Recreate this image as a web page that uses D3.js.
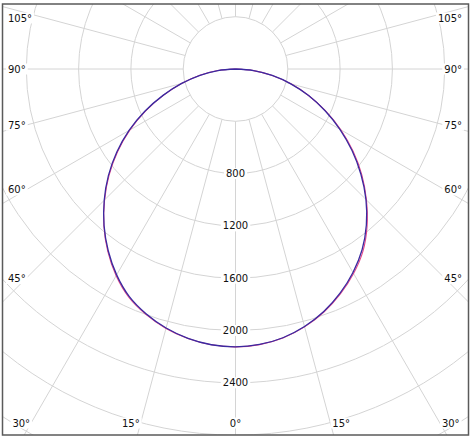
<!DOCTYPE html>
<html>
<head>
<meta charset="utf-8">
<script src="https://cdn.jsdelivr.net/npm/d3@7"></script>
<style>
  html, body { margin: 0; padding: 0; background: #fff; }
  svg { display: block; }
  text { font-family: "DejaVu Sans", sans-serif; font-size: 10px; fill: #111; }
</style>
</head>
<body>
<svg id="chart" width="472" height="438"></svg>
<script>
// ---- data (angles from nadir, in degrees; intensity in cd) ----
const gammaAngles = [0, 5, 10, 15, 20, 25, 30, 35, 40, 45, 50, 55, 60, 65, 70, 75, 80, 85, 90];
const blueLeft  = [2125, 2117, 2092, 2051, 1994, 1921, 1818, 1697, 1564, 1420, 1269, 1108, 940, 765, 590, 426, 276, 135, 0];
const blueRight = [2125, 2115, 2087, 2039, 1974, 1892, 1797, 1688, 1557, 1411, 1252, 1088, 922, 756, 595, 438, 285, 139, 0];
const pinkLeft  = [2125, 2117, 2093, 2054, 1999, 1928, 1826, 1703, 1566, 1416, 1262, 1100, 932, 758, 585, 424, 276, 135, 0];
const pinkRight = [2125, 2116, 2089, 2042, 1978, 1898, 1806, 1700, 1566, 1416, 1262, 1098, 930, 760, 597, 439, 285, 139, 0];

const ringValues = [400, 800, 1200, 1600, 2000, 2400, 2800, 3200, 3600, 4000];
const ringLabels = [800, 1200, 1600, 2000, 2400];
const spokeAngles = [0, 15, 30, 45, 60, 75, 90, 105, 120, 135, 150, 165, 180,
                     -15, -30, -45, -60, -75, -90, -105, -120, -135, -150, -165];
const sideLabelAngles = [45, 60, 75, 90, 105];
const bottomLabelAngles = [-30, -15, 0, 15, 30];

// ---- layout ----
const frame = { x: 2.5, y: 4, w: 466, h: 431 };
const cx = 235.5, cy = 69;
const r = d3.scaleLinear().domain([0, 2400]).range([0, 313.8]);
const gridColor = "#d4d4d4";

const svg = d3.select("#chart");
svg.append("defs").append("clipPath").attr("id", "clip")
  .append("rect").attr("x", frame.x).attr("y", frame.y).attr("width", frame.w).attr("height", frame.h);

const plot = svg.append("g").attr("clip-path", "url(#clip)");
const toRad = d => d * Math.PI / 180;
const px = (phi, R) => cx + R * Math.sin(toRad(phi));
const py = (phi, R) => cy + R * Math.cos(toRad(phi));

// rings
plot.append("g").selectAll("circle").data(ringValues).join("circle")
  .attr("cx", cx).attr("cy", cy).attr("r", d => r(d))
  .attr("fill", "none").attr("stroke", gridColor).attr("stroke-width", 1);

// spokes
plot.append("g").selectAll("line").data(spokeAngles).join("line")
  .attr("x1", d => px(d, r(400))).attr("y1", d => py(d, r(400)))
  .attr("x2", d => px(d, 1000)).attr("y2", d => py(d, 1000))
  .attr("stroke", gridColor).attr("stroke-width", 1);

// curves
function buildPoints(left, right) {
  const pts = [];
  for (let i = gammaAngles.length - 1; i >= 0; i--) pts.push([Math.PI + toRad(gammaAngles[i]), r(left[i])]);
  for (let i = 1; i < gammaAngles.length; i++) pts.push([Math.PI - toRad(gammaAngles[i]), r(right[i])]);
  return pts;
}
const radial = d3.lineRadial().angle(d => d[0]).radius(d => d[1]).curve(d3.curveCatmullRom.alpha(0.5));
const curves = plot.append("g").attr("transform", `translate(${cx},${cy})`);
curves.append("path").attr("d", radial(buildPoints(pinkLeft, pinkRight)))
  .attr("fill", "none").attr("stroke", "#e4478a").attr("stroke-width", 1.1);
curves.append("path").attr("d", radial(buildPoints(blueLeft, blueRight)))
  .attr("fill", "none").attr("stroke", "#3a2aa0").attr("stroke-width", 1.3);

// labels with white backgrounds
const labels = svg.append("g");
function addLabel(txt, x, y, anchor) {
  const g = labels.append("g");
  const t = g.append("text").attr("x", x).attr("y", y).attr("dy", "0.35em")
    .attr("text-anchor", anchor).text(txt);
  const b = t.node().getBBox();
  g.insert("rect", "text").attr("x", b.x - 2).attr("y", b.y)
    .attr("width", b.width + 4).attr("height", b.height).attr("fill", "#fff");
}

ringLabels.forEach(v => addLabel(String(v), cx, cy + r(v), "middle"));

sideLabelAngles.forEach(a => {
  const dxL = cx - 26;
  let yL = cy + dxL / Math.sin(toRad(a)) * Math.cos(toRad(a));
  yL = Math.max(18, yL);
  addLabel(a + "°", 8, yL, "start");
  addLabel(a + "°", 462, yL, "end");
});

bottomLabelAngles.forEach(a => {
  const yB = 423;
  const xB = cx + (yB - cy) * Math.tan(toRad(a));
  const anchor = a < 0 ? "end" : (a > 0 ? "start" : "middle");
  const xPos = a < 0 ? xB - 1 : (a > 0 ? xB + 2 : xB);
  addLabel(Math.abs(a) + "°", xPos, yB, anchor);
});

// frame
svg.append("rect").attr("x", frame.x).attr("y", frame.y).attr("width", frame.w).attr("height", frame.h)
  .attr("fill", "none").attr("stroke", "#5a5a5a").attr("stroke-width", 1.5);
</script>
</body>
</html>
